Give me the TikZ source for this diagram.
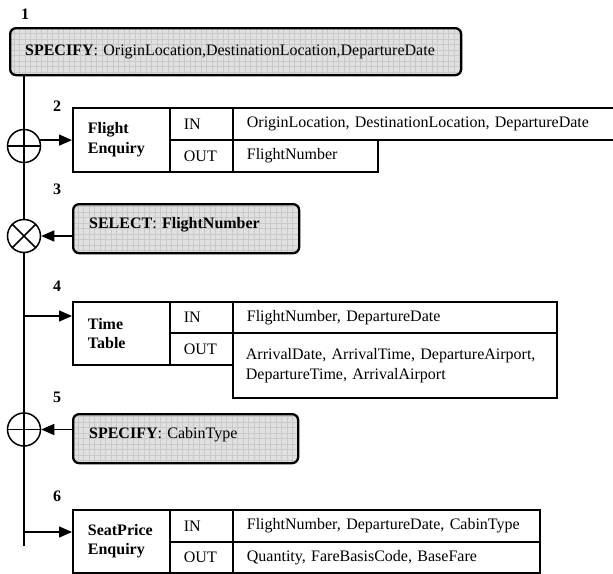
\documentclass[tikz,border=0pt]{standalone}
\usepackage{fontspec}
\setmainfont{Liberation Serif}
\usetikzlibrary{arrows.meta,calc}
\begin{document}
\begin{tikzpicture}[x=1pt,y=-1pt,
  every node/.style={font=\fontsize{16}{19.5}\selectfont},
  lbl/.style={font=\fontsize{16}{19.5}\selectfont\bfseries, inner sep=0pt},
  hatch/.style={fill=black!12,
    path picture={\draw[black!21, line width=0.35pt]
      (path picture bounding box.south west) grid[step=5.5pt]
      (path picture bounding box.north east);}},
  specbox/.style={draw, line width=2.3pt, rounded corners=6pt, hatch,
    anchor=north west, inner ysep=0pt, align=left},
  cell/.style={draw, line width=1.8pt, anchor=north west,
    inner xsep=14pt, inner ysep=0pt, align=left},
  namecell/.style={cell, font=\fontsize{16}{19.5}\selectfont\bfseries,
    inner xsep=15pt, text width=67pt,
    minimum width=97pt, minimum height=64pt},
  iocell/.style={cell, text width=35pt, minimum width=63pt},
  junction/.style={circle, draw, line width=1.5pt, fill=white,
    minimum size=33pt, inner sep=0pt},
  oplus/.style={junction, path picture={\draw[line width=1.5pt]
      (path picture bounding box.north) -- (path picture bounding box.south)
      (path picture bounding box.west) -- (path picture bounding box.east);}},
  otimes/.style={junction, path picture={\draw[line width=1.5pt]
      (path picture bounding box.north west) -- (path picture bounding box.south east)
      (path picture bounding box.south west) -- (path picture bounding box.north east);}},
  mainline/.style={line width=1.6pt},
  arr/.style={line width=1.5pt, -{Triangle[length=13pt,width=11pt]}}
]
\useasboundingbox (0,0) rectangle (613,573);
\fill[white] (0,0) rectangle (613,573);

% step 1: initial specification
\node[lbl] (n1) at (25,14) {1};
\node[specbox, minimum width=451pt, minimum height=47pt, text width=421pt,
      inner xsep=15pt] (spec1) at (9,27)
  {\textbf{SPECIFY}: OriginLocation,DestinationLocation,DepartureDate};

% control-flow spine
\coordinate (bot) at (24,546);
\coordinate (j4) at (24,316);
\coordinate (j6) at (24,532);
\draw[mainline] (spec1.south -| bot) -- (bot);

% junctions on the spine
\node[oplus]  (c2) at (24,146) {};
\node[otimes] (c3) at (24,236) {};
\node[oplus]  (c5) at (24,429.5) {};

% step 2: Flight Enquiry
\node[lbl] (n2) at (57,106) {2};
\node[namecell] (fe) at (72,107) {Flight\\Enquiry};
\node[iocell, minimum height=32pt] (in2) at (169,107) {IN};
\node[cell, minimum width=383pt, minimum height=32pt, text width=355pt] (inv2) at (232,107)
  {OriginLocation, DestinationLocation, DepartureDate};
\node[iocell, minimum height=32pt] (out2) at (169,139) {OUT};
\node[cell, minimum width=145pt, minimum height=32pt, text width=117pt] (outv2) at (232,139)
  {FlightNumber};

% step 3: selection
\node[lbl] (n3) at (57,189) {3};
\node[specbox, minimum width=226pt, minimum height=49pt, text width=194pt,
      inner xsep=16pt, text depth=12pt] (spec3) at (72,203)
  {\textbf{SELECT}: \textbf{FlightNumber}};

% step 4: Time Table
\node[lbl] (n4) at (57,286) {4};
\node[namecell, minimum height=63pt] (tt) at (72,301) {Time\\Table};
\node[iocell, minimum height=31pt] (in4) at (169,301) {IN};
\node[cell, minimum width=324pt, minimum height=31pt, text width=296pt] (inv4) at (232,301)
  {FlightNumber, DepartureDate};
\node[iocell, minimum height=32pt] (out4) at (169,332) {OUT};
\node[cell, minimum width=324pt, minimum height=65pt, text width=298pt,
      inner xsep=13pt] (outv4) at (232,332)
  {ArrivalDate, ArrivalTime, DepartureAirport,\\DepartureTime, ArrivalAirport};

% step 5: cabin specification
\node[lbl] (n5) at (57,397) {5};
\node[specbox, minimum width=225pt, minimum height=49pt, text width=193pt,
      inner xsep=16pt, text depth=12pt] (spec5) at (72,413)
  {\textbf{SPECIFY}: CabinType};

% step 6: SeatPrice Enquiry
\node[lbl] (n6) at (57,496) {6};
\node[namecell, minimum height=63pt] (sp) at (72,509) {SeatPrice\\Enquiry};
\node[iocell, minimum height=32pt] (in6) at (169,509) {IN};
\node[cell, minimum width=307pt, minimum height=32pt, text width=279pt] (inv6) at (232,509)
  {FlightNumber, DepartureDate, CabinType};
\node[iocell, minimum height=31pt] (out6) at (169,541) {OUT};
\node[cell, minimum width=307pt, minimum height=31pt, text width=279pt] (outv6) at (232,541)
  {Quantity, FareBasisCode, BaseFare};

% connectors
\draw[arr] (c2.20) -- (c2.20 -| fe.west);
\draw[arr] (c3.east -| spec3.west) -- (c3.east);
\draw[arr] (j4) -- (j4 -| tt.west);
\draw[arr] (c5.east -| spec5.west) -- (c5.east);
\draw[arr] (j6) -- (j6 -| sp.west);
\end{tikzpicture}
\end{document}
